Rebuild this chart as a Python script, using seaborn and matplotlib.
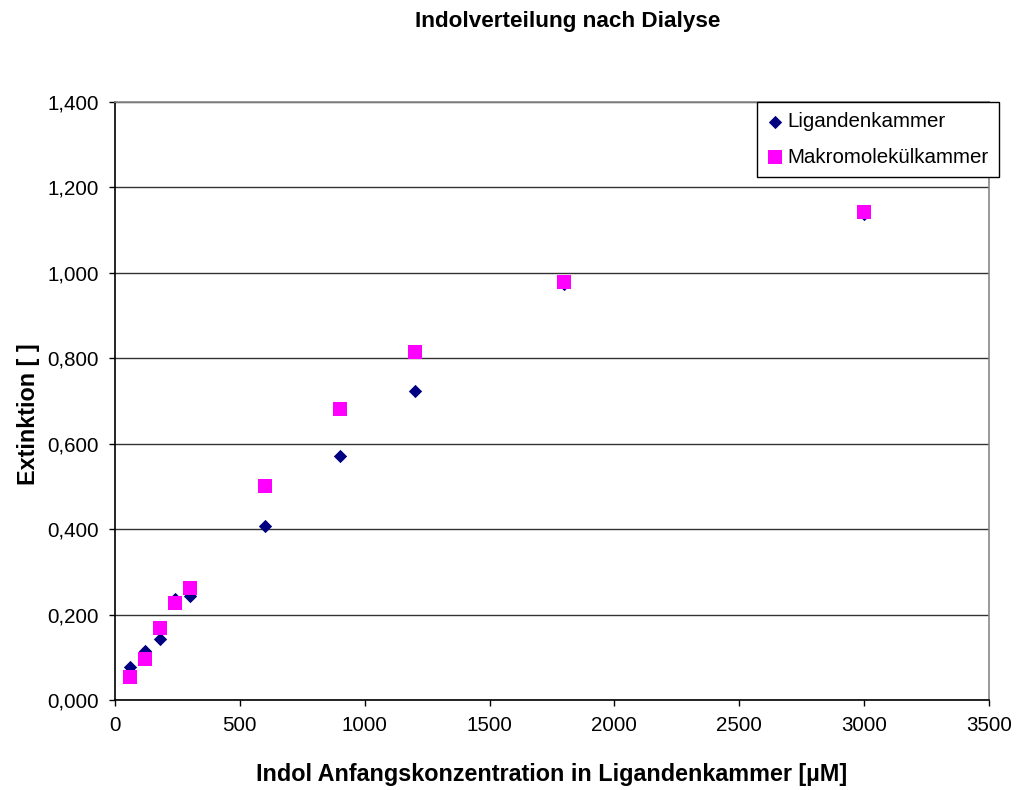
import matplotlib
matplotlib.use("Agg")
import matplotlib.pyplot as plt
import seaborn as sns
import pandas as pd
from matplotlib.ticker import FuncFormatter, MultipleLocator

# Data
konzentration = [60, 120, 180, 240, 300, 600, 900, 1200, 1800, 3000]
ligandenkammer = [0.077, 0.115, 0.143, 0.236, 0.244, 0.408, 0.571, 0.724, 0.974, 1.138]
makromolekuelkammer = [0.054, 0.095, 0.168, 0.226, 0.262, 0.500, 0.680, 0.815, 0.978, 1.143]
series_names = ["Ligandenkammer", "Makromolekülkammer"]
y_ticks_step = 0.2
x_ticks_step = 500

sns.set_theme(style="white")
plt.rcParams['font.family'] = ['Liberation Sans', 'DejaVu Sans']
plt.rcParams['text.color'] = 'black'
plt.rcParams['axes.labelcolor'] = 'black'
plt.rcParams['xtick.color'] = 'black'
plt.rcParams['ytick.color'] = 'black'

df_l = pd.DataFrame({"x": konzentration, "y": ligandenkammer, "Serie": series_names[0]})
df_m = pd.DataFrame({"x": konzentration, "y": makromolekuelkammer, "Serie": series_names[1]})

fig = plt.figure(figsize=(10.17, 7.90), dpi=100)
ax = fig.add_axes([115/1017, 1-700/790, (989-115)/1017, (700-101.7)/790])

ax.set_xlim(0, 3500)
ax.set_ylim(0, 1.4)
ax.yaxis.set_major_locator(MultipleLocator(y_ticks_step))
ax.xaxis.set_major_locator(MultipleLocator(x_ticks_step))
ax.yaxis.grid(True, color="#333333", linewidth=1.0)
ax.xaxis.grid(False)
ax.set_axisbelow(True)

sns.scatterplot(data=df_l, x="x", y="y", marker="D", color="#000080", s=46,
                linewidth=0, ax=ax, label=series_names[0], zorder=3)
sns.scatterplot(data=df_m, x="x", y="y", marker="s", color="#FF00FF", s=88,
                linewidth=0, ax=ax, label=series_names[1], zorder=4)

ax.yaxis.set_major_formatter(FuncFormatter(lambda v, p: f"{v:.3f}".replace(".", ",")))
ax.xaxis.set_major_formatter(FuncFormatter(lambda v, p: f"{int(round(v))}"))

for side in ["left", "bottom"]:
    ax.spines[side].set_color("black")
    ax.spines[side].set_linewidth(1.2)
for side in ["right", "top"]:
    ax.spines[side].set_color("#888888")
    ax.spines[side].set_linewidth(1.2)

ax.tick_params(axis="both", which="major", direction="out", length=4.5, width=1,
               color="black", labelsize=14.8, pad=7, left=True, bottom=True,
               labelcolor="black")

ax.set_xlabel("Indol Anfangskonzentration in Ligandenkammer [µM]", fontsize=16.8,
              fontweight="bold", labelpad=20)
ax.set_ylabel("Extinktion [ ]", fontsize=16.8, fontweight="bold")
ax.yaxis.set_label_coords(-0.0858, 0.478)

fig.text(568/1017, 1-22/790, "Indolverteilung nach Dialyse", ha="center", va="center",
         fontsize=16.2, fontweight="bold")

leg = ax.legend(loc="upper right", bbox_to_anchor=(999/1017, 1-102/790),
                bbox_transform=fig.transFigure, frameon=True, fancybox=False,
                edgecolor="black", fontsize=14.8, handlelength=0.8,
                handletextpad=0.2, labelspacing=0.8, borderpad=0.5,
                borderaxespad=0, framealpha=1)
leg.get_frame().set_linewidth(1.0)
leg.set_zorder(10)

fig.savefig("out.png", dpi=100, facecolor="white")
